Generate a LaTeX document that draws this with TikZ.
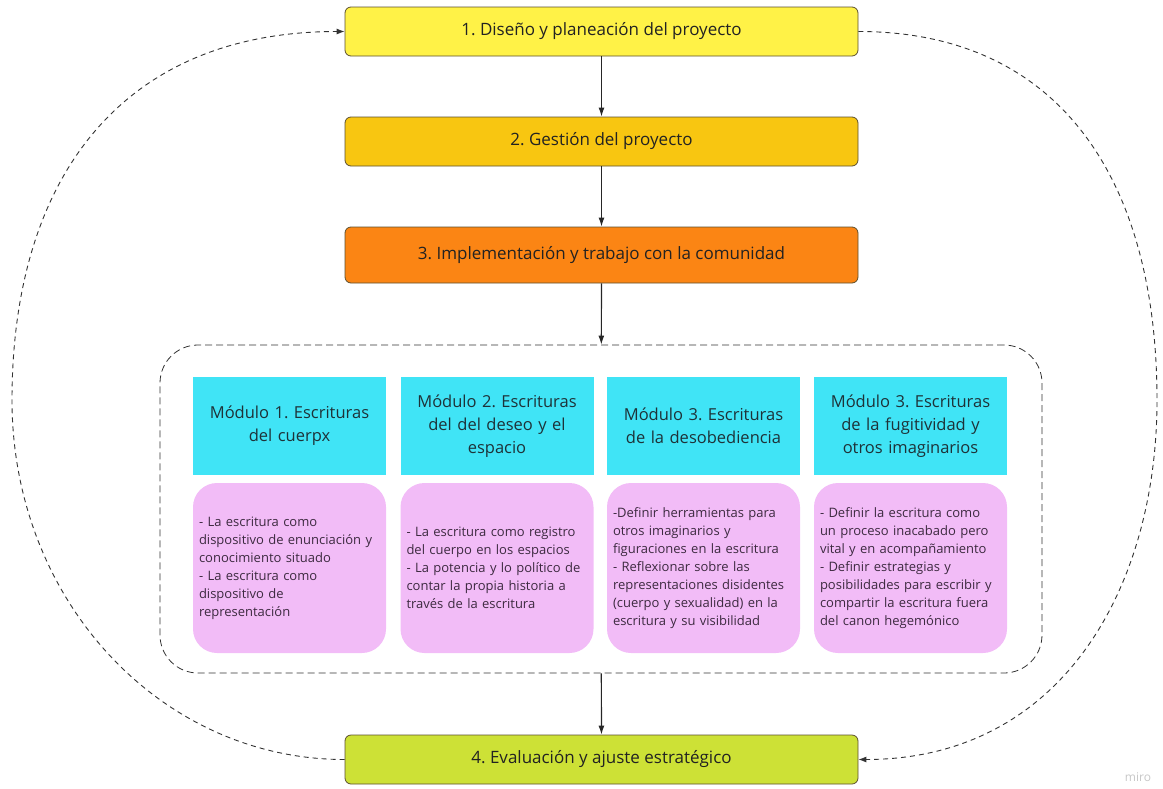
\documentclass[tikz,border=0pt]{standalone}
\usepackage{fontspec}
\setmainfont{Open Sans}
\usetikzlibrary{arrows.meta}
\frenchspacing
\definecolor{cA}{HTML}{FFF247}
\definecolor{cB}{HTML}{F8C611}
\definecolor{cC}{HTML}{FB8514}
\definecolor{cD}{HTML}{CDE136}
\definecolor{cyanbox}{HTML}{40E4F6}
\definecolor{pinkbox}{HTML}{F2BCF7}
\definecolor{boxline}{HTML}{5C5030}
\definecolor{txtmain}{HTML}{222222}
\definecolor{txthead}{HTML}{1E3238}
\definecolor{txtpink}{HTML}{3D2A40}
\begin{document}
\begin{tikzpicture}[x=1pt,y=-1pt,
  stagebox/.style={draw=boxline, line width=0.8pt, rounded corners=6pt,
    minimum width=513pt, minimum height=49pt, inner sep=0pt,
    text=txtmain, font=\fontsize{17}{19}\selectfont},
  headbox/.style={fill=cyanbox, minimum width=193pt, minimum height=98pt,
    text width=185pt, inner xsep=4pt, inner ysep=0pt, align=center,
    text=txthead, font=\fontsize{16.5}{23}\selectfont},
  pinkcard/.style={fill=pinkbox, rounded corners=24pt, minimum width=193pt,
    minimum height=170pt, text width=181pt, inner xsep=6pt, inner ysep=0pt,
    align=left, text=txtpink, font=\fontsize{13}{18}\selectfont},
  groupbox/.style={draw=black!80, dash pattern=on 7pt off 4pt, line width=0.8pt,
    rounded corners=38pt, minimum width=882pt, minimum height=328pt},
  flow/.style={draw=black!85, line width=1.2pt, -{Latex[length=9pt,width=6pt]}},
  loopline/.style={draw=black!80, line width=0.9pt, dash pattern=on 5pt off 4pt,
    -{Latex[length=8pt,width=6pt]}}
]
\useasboundingbox (0,0) rectangle (1163,788);

\node[stagebox, fill=cA] (b1) at (601.5,31.5) {1. Diseño y planeación del proyecto};
\node[stagebox, fill=cB] (b2) at (601.5,141.5) {2. Gestión del proyecto};
\node[stagebox, fill=cC, minimum height=56pt] (b3) at (601.5,255) {3. Implementación y trabajo con la comunidad};
\node[stagebox, fill=cD] (b4) at (601.5,759.5) {4. Evaluación y ajuste estratégico};

\node[groupbox] (grp) at (601,509) {};

\node[headbox] (h1) at (289.5,426) {Módulo 1. Escrituras\\del cuerpx};
\node[headbox] (h2) at (497,426) {Módulo 2. Escrituras\\del del deseo y el\\espacio};
\node[headbox] (h3) at (703.5,426) {Módulo 3. Escrituras\\de la desobediencia};
\node[headbox] (h4) at (910.5,426) {Módulo 3. Escrituras\\de la fugitividad y\\otros imaginarios};

\node[pinkcard] (p1) at (289.5,568) {- La escritura como\\dispositivo de enunciación y\\conocimiento situado\\- La escritura como\\dispositivo de\\representación};
\node[pinkcard] (p2) at (497,568) {- La escritura como registro\\del cuerpo en los espacios\\- La potencia y lo político de\\contar la propia historia a\\través de la escritura};
\node[pinkcard] (p3) at (703.5,568) {-Definir herramientas para\\otros imaginarios y\\figuraciones en la escritura\\- Reflexionar sobre las\\representaciones disidentes\\(cuerpo y sexualidad) en la\\escritura y su visibilidad};
\node[pinkcard] (p4) at (910.5,568) {- Definir la escritura como\\un proceso inacabado pero\\vital y en acompañamiento\\- Definir estrategias y\\posibilidades para escribir y\\compartir la escritura fuera\\del canon hegemónico};

\draw[flow] (b1) -- (b2);
\draw[flow] (b2) -- (b3);
\draw[flow] (b3) -- (grp);
\draw[flow] (grp) -- (b4);

\coordinate (lx) at (12,400);
\coordinate (rx) at (1157,400);
\draw[loopline] (b4.west) .. controls (160,759.5) and (12,600) .. (lx)
  .. controls (12,180) and (120,31.5) .. (b1.west);
\draw[loopline] (b1.east) .. controls (1060,31.5) and (1157,180) .. (rx)
  .. controls (1157,590) and (1060,759.5) .. (b4.east);

\node[text=black!22, font=\fontsize{12}{14}\selectfont] (miro) at (1138,777) {miro};
\end{tikzpicture}
\end{document}
